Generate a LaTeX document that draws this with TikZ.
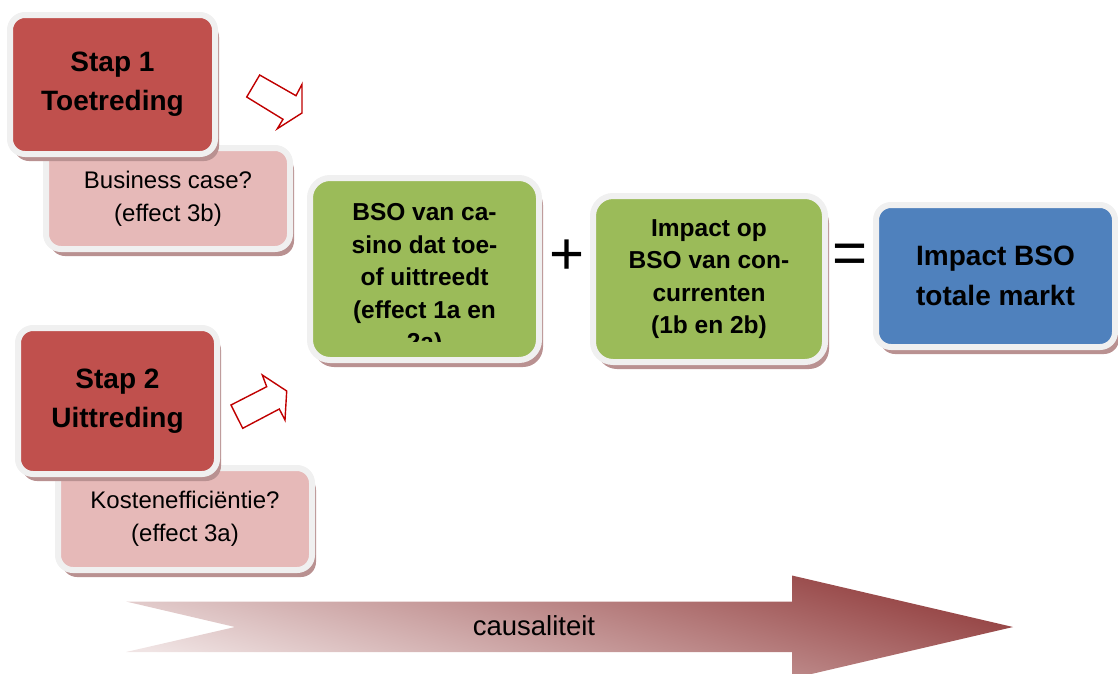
\documentclass[tikz,border=0pt]{standalone}
\usepackage{fontspec}
\setmainfont{Liberation Sans}
\setsansfont{Liberation Sans}
\usepackage{tikz}
\usetikzlibrary{shadows, positioning, calc}
\definecolor{stepred}{RGB}{192, 80, 77}
\definecolor{askpink}{RGB}{230, 185, 184}
\definecolor{effectgreen}{RGB}{155, 187, 89}
\definecolor{totalblue}{RGB}{79, 129, 189}
\definecolor{framegray}{RGB}{240, 240, 240}
\definecolor{shadowmauve}{RGB}{185, 145, 145}
\definecolor{arrowred}{RGB}{192, 0, 0}
\definecolor{causelight}{RGB}{240, 228, 228}
\definecolor{causedark}{RGB}{146, 62, 62}
\tikzset{
  font=\sffamily,
  baseblock/.style={
    rectangle, rounded corners=15pt, draw=framegray, line width=6pt,
    align=center, inner sep=0pt,
    drop shadow={shadow xshift=4pt, shadow yshift=-7pt, fill=shadowmauve, opacity=1}
  },
  stepblock/.style={baseblock, fill=stepred, font=\sffamily\bfseries\fontsize{28}{39}\selectfont},
  askblock/.style={baseblock, fill=askpink, font=\sffamily\fontsize{24}{33}\selectfont},
  effectblock/.style={baseblock, fill=effectgreen, rounded corners=20pt},
  effecttext/.style={font=\sffamily\bfseries\fontsize{24.5}{32.5}\selectfont, align=center, inner sep=0pt},
  totalblock/.style={baseblock, fill=totalblue, font=\sffamily\bfseries\fontsize{28}{40}\selectfont},
  signtext/.style={font=\sffamily\fontsize{60}{60}\selectfont, inner sep=0pt},
  hollowarrow/.style={draw=arrowred, line width=1.4pt, fill=white, line join=miter},
  causearrow/.style={left color=causelight, right color=causedark, shading angle=164}
}
\begin{document}
\begin{tikzpicture}[x=1pt, y=-1pt]

  \useasboundingbox (0,0) rectangle (1118,673);
  \clip (0,0) rectangle (1118,673);

  % Question boxes (behind the steps)
  \node[askblock, minimum width=244pt, minimum height=101pt] (case) at (168,198.5) {Business case?\\(effect 3b)};
  \node[askblock, minimum width=254pt, minimum height=102pt] (cost) at (185,519) {Kostenefficiëntie?\\(effect 3a)};

  % Steps
  \node[stepblock, minimum width=205pt, minimum height=139pt] (step1) at (112.5,84.5) {Stap 1\\Toetreding};
  \node[stepblock, minimum width=199pt, minimum height=146pt] (step2) at (117.5,401) {Stap 2\\Uittreding};

  % Hollow arrows towards the casino box
  \draw[hollowarrow] (259.7,75) -- (296,95.7) -- (302,84.3) -- (302,113) -- (277.3,128.7)
    -- (283,119.3) -- (246.7,97) -- cycle;
  \draw[hollowarrow] (231,405) -- (266.7,386.7) -- (262.3,375) -- (286.7,391) -- (285,420)
    -- (279.3,409) -- (242.7,428.3) -- cycle;

  % Effect of the casino itself
  \node[effectblock, minimum width=229pt, minimum height=182pt] (own) at (424.5,269) {};
  \begin{scope}
    \clip (own.north west) rectangle ([yshift=-72pt]own.east);
    \node[effecttext, anchor=north] (owntext) at ([yshift=-28.5pt]own.north)
      {BSO van ca-\\sino dat toe-\\of uittreedt\\(effect 1a en\\2a)};
  \end{scope}

  % Competitors and total
  \node[effectblock, effecttext, minimum width=232pt, minimum height=166pt] (rival) at (709,279)
    {Impact op\\BSO van con-\\currenten\\(1b en 2b)};
  \node[totalblock, minimum width=239pt, minimum height=142pt] (total) at (995.5,276)
    {Impact BSO\\totale markt};

  \node[signtext] (plus) at (567,257) {+};
  \node[signtext] (equals) at (850,259) {=};

  % Causality arrow
  \path[causearrow] (126,601.5) -- (792,601.5) -- (792,575.5) -- (1013,627) -- (792,678.5)
    -- (792,652) -- (126,652) -- (235,627) -- cycle;
  \node[font=\sffamily\fontsize{27.5}{27.5}\selectfont] (cause) at (534,625.5) {causaliteit};

\end{tikzpicture}
\end{document}
